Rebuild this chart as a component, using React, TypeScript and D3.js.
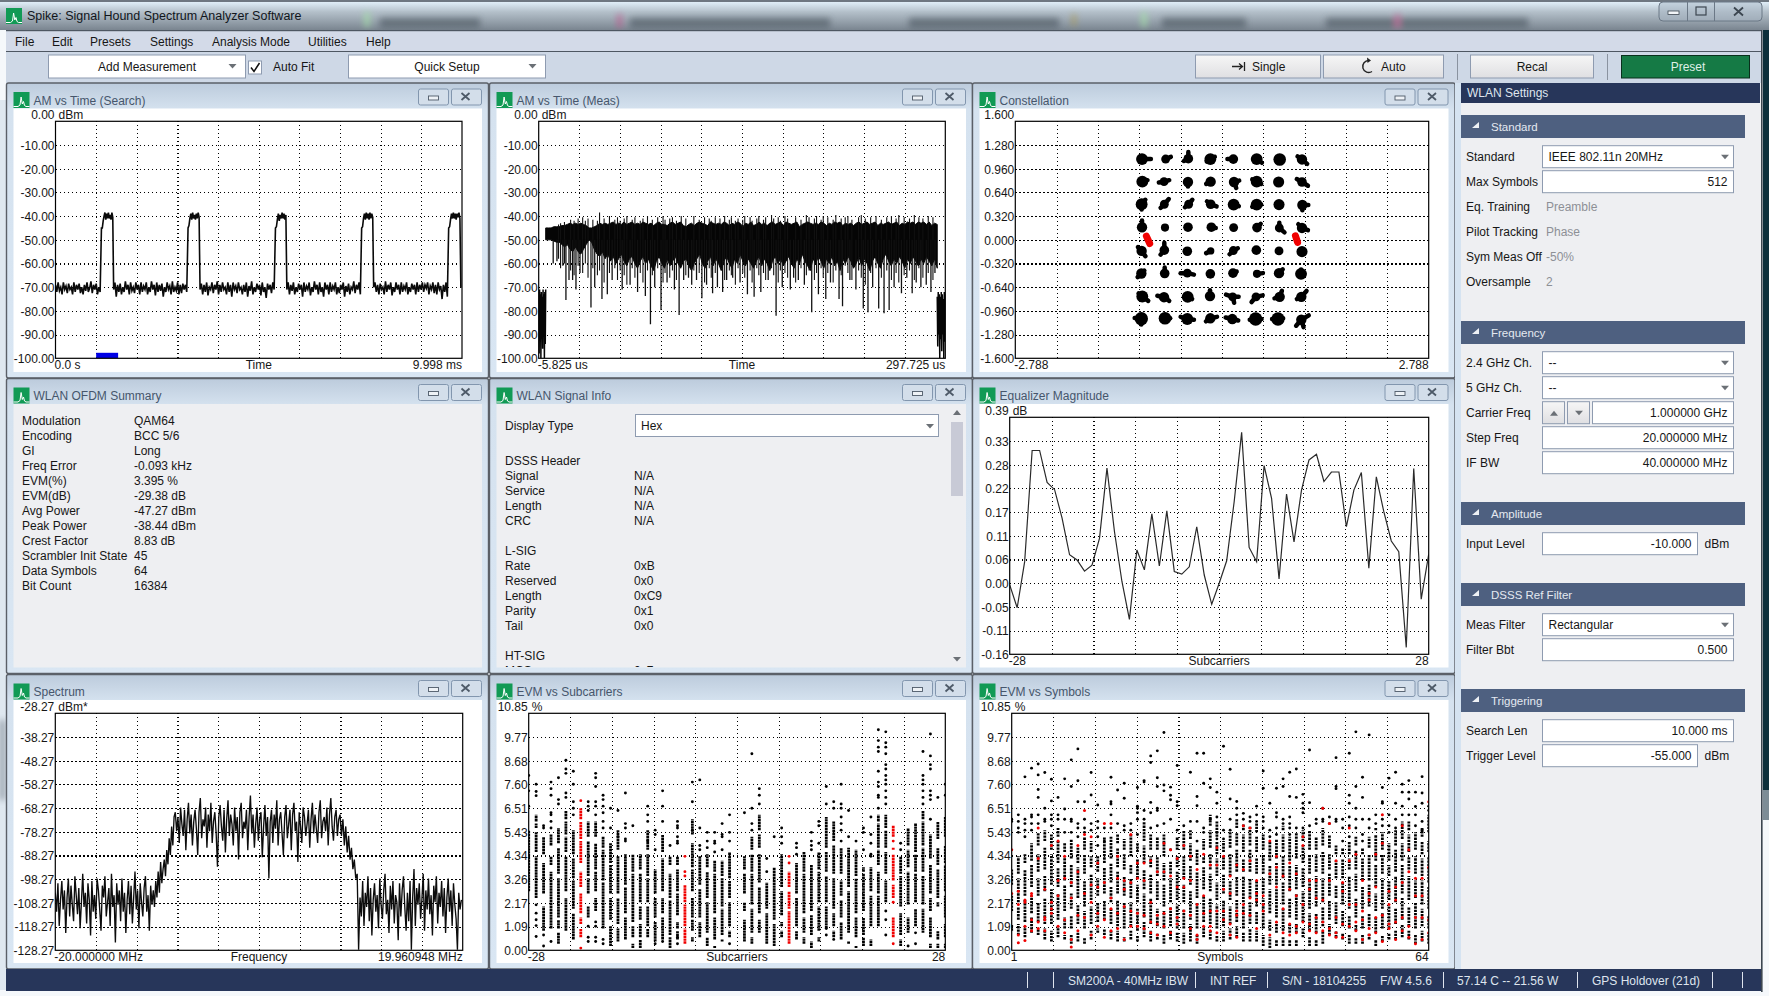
import { useEffect, useRef } from "react";
import * as d3 from "d3";

const FONT = "'Liberation Sans', Arial, sans-serif";

// ---- tick labels ----
const searchYLabels = ["", "-10.00", "-20.00", "-30.00", "-40.00", "-50.00", "-60.00", "-70.00", "-80.00", "-90.00", "-100.00"];
const constYLabels = ["", "1.280", "0.960", "0.640", "0.320", "0.000", "-0.320", "-0.640", "-0.960", "-1.280", "-1.600"];
const eqYLabels = ["", "0.33", "0.28", "0.22", "0.17", "0.11", "0.06", "0.00", "-0.05", "-0.11", "-0.16"];
const specYLabels = ["", "-38.27", "-48.27", "-58.27", "-68.27", "-78.27", "-88.27", "-98.27", "-108.27", "-118.27", "-128.27"];
const evmYLabels = ["", "9.77", "8.68", "7.60", "6.51", "5.43", "4.34", "3.26", "2.17", "1.09", "0.00"];

// ---- AM vs Time (Search), dBm, 0 .. 9.998 ms ----
// time where each stretch of the trace starts, last entry closes the axis
const searchEdges = [0, 1.13, 1.43, 3.26, 3.555, 5.41, 5.69, 7.53, 7.825, 9.67, 9.97, 9.998];
const searchPieces = [
  [-69, -72, -68, -71.5, -70, -73, -68, -71, -69.5, -72.5, -68.5, -71, -70, -73, -68, -72, -69, -71, -68.5, -72.5, -70, -73, -69, -71.5, -68, -72, -70.5, -67.5, -72.5, -69, -71, -68.5, -73, -70, -72],
  [-45, -45, -42, -40, -38.5, -41.5, -39, -41, -38.5, -41, -39.5, -41.5, -38.5, -40.5],
  [-71, -68, -74, -69, -72, -68.5, -73, -70, -72, -67.5, -71, -69, -73, -68, -71.5, -70, -72.5, -68, -71, -69, -73, -68, -72, -69.5, -71, -68, -73, -70, -72, -67.5, -71, -69, -73.5, -68, -72, -69, -71.5, -68.5, -74, -70, -72, -68, -71, -69.5, -73, -67.5, -72, -70, -71.5, -68, -73, -69, -72.5, -68.5, -71, -69, -72],
  [-45, -44, -41, -39, -41.5, -38.5, -41, -39.5, -41.5, -39, -41, -38.5, -40.5],
  [-71, -68.5, -73, -69, -72, -68, -73.5, -70, -71, -68, -72.5, -69, -71, -67.5, -73, -69, -72, -68, -71, -70, -73, -68, -72, -69, -74, -68, -71, -69.5, -72.5, -68, -71, -70, -73, -69, -72, -68, -74, -69.5, -71.5, -67.5, -73, -70, -72, -68.5, -71, -69, -73.5, -68, -72, -70, -74.5, -68.5, -71, -69, -72.5, -68, -71],
  [-45, -44.5, -41.5, -39, -42, -39.5, -41, -38.5, -41, -39, -41.5, -39.5],
  [-71, -68, -73, -69, -71.5, -68, -73, -70, -72, -68.5, -71, -69, -74, -68, -72, -69.5, -71, -68, -73.5, -70, -72, -67.5, -71, -69, -73, -68, -72, -70, -74, -68, -71, -69, -73, -68, -72, -69.5, -71, -68, -73, -70, -72.5, -69, -71, -68, -74, -69.5, -72, -68.5, -73, -70, -71, -67.5, -72.5, -69, -71, -68, -73],
  [-45, -44.5, -41, -39, -41.5, -38.5, -41, -39, -41.5, -38.5, -41, -39, -40.5],
  [-70, -68, -72, -69, -73, -68.5, -71, -70, -73, -67.5, -72, -69, -71, -68, -73.5, -70, -72, -68, -71, -69, -73, -68, -72, -69.5, -71, -68, -73, -70, -72, -68.5, -71, -69, -73, -68, -72, -69, -71, -68, -72, -69, -70.5, -68, -73, -69.5, -71, -68, -72.5, -69, -73, -68, -71, -69.5, -75, -69, -72, -68, -74],
  [-45, -44.5, -41.5, -39, -41, -38.5, -41, -39, -41.5, -39, -40.5, -38.5, -41],
  [-70, -70],
];
const searchBlock = [1.0, 1.54]; // ms covered by the measured burst marker

// ---- AM vs Time (Meas), dBm, -5.825 .. 297.725 us ----
const measLead = [-72, -98, -71, -90, -73, -100, -72, -92, -74, -96, -71, -88, -73, -100, -72, -94, -71];
const measTail = [-74, -95, -72, -90, -73, -100, -74, -92, -72, -97, -73, -90, -75, -100, -72, -93, -73];
const measUpper = [
  -45, -45, -45, -44.5, -44.5, -44.5, -44, -44, -43.5, -43, -43.5, -43, -43.5, -43, -43.5, -44, -45, -45, -44.5, -44, -43, -43.5, -43, -43.5, -43, -42.5, -43.5, -43, -43.5, -42.5, -43.5, -43, -42.5, -43.5, -43, -43.5, -42.5, -43, -43.5, -43, -44, -43, -42.5, -43.5, -43.5, -44, -43, -42.5, -43.5, -43, -42.5, -44, -44.5, -43.5, -43, -44, -43, -42.5, -43, -43.5, -44, -42.5, -43, -43.5, -43, -43.5, -42.5, -43, -44, -43, -43.5, -42.5, -43, -44.5, -43, -43.5, -42.5, -44, -43.5, -42.5, -43.5, -43, -44, -43, -42.5, -43.5, -43, -42.5, -44, -42.5, -43, -43.5, -43, -42.5, -44.5, -43.5, -43, -42.5, -43, -43.5, -43, -43.5, -42.5, -43, -44, -43, -43.5, -42.5, -43, -42.5, -44, -43, -43.5, -43, -44, -43, -42.5, -43.5, -43, -42.5, -43.5, -43, -42.5, -44, -43, -43.5, -43, -42.5, -43.5, -43, -42.5, -44, -43, -43.5, -42.5, -43, -42.5, -43.5, -42.5, -43, -42.5, -43.5, -42.5, -44, -43, -43.5,
];
const measCore = [
  -50, -50, -50, -50.5, -51, -51, -52, -53, -52, -54, -55, -53, -55, -56, -54, -52, -50, -51, -54, -56, -57, -55, -58, -56, -59, -57, -60, -58, -56, -59, -61, -58, -57, -60, -62, -59, -57, -60, -58, -61, -63, -59, -57, -60, -62, -58, -61, -59, -57, -60, -62, -59, -58, -61, -63, -60, -58, -56, -60, -62, -59, -57, -61, -58, -60, -63, -59, -57, -60, -62, -58, -60, -56, -59, -61, -58, -60, -62, -59, -57, -61, -58, -60, -63, -59, -57, -60, -58, -61, -59, -57, -60, -62, -58, -60, -56, -59, -61, -63, -58, -60, -57, -59, -62, -58, -60, -57, -61, -59, -63, -58, -60, -57, -59, -62, -60, -57, -61, -58, -60, -63, -59, -57, -60, -62, -58, -56, -59, -61, -58, -60, -57, -59, -62, -58, -60, -57, -59, -61, -58, -60, -57, -59, -61, -58, -62,
];
const measSpikeTimes = [5, 7.8, 12.2, 14.5, 16.8, 19.5, 22, 25, 33.2, 36, 41.4, 45.4, 49, 56.5, 62.4, 68, 73.8, 77.6, 80.8, 85.5, 90, 95.5, 99, 102.4, 106, 108.4, 112, 116, 119.5, 124, 127.6, 131.5, 134.5, 139, 144.5, 150, 155, 160, 165.5, 171.4, 176, 182, 184.5, 188, 192.5, 198, 203, 208.5, 212, 218.4, 221, 226.5, 231, 236.5, 240, 243.5, 248, 252, 255.8, 259.5, 265, 269, 273, 276, 279.5, 283.5, 287, 290];
const measSpikeDepths = [-60, -59, -61, -75.4, -67, -67, -71, -64, -78.6, -70, -75, -73, -67, -71, -69, -72, -73.7, -85.6, -70, -79.6, -68, -71, -81.7, -67, -66, -69, -67, -74.7, -69, -72.6, -70, -72, -67, -66, -68, -73, -74, -72, -67, -82, -70, -71, -66, -67, -69, -80.6, -73, -75, -68, -75, -78, -67, -71, -79, -80.6, -70, -79, -81, -79.6, -70, -72.6, -66, -72.6, -68, -70, -69, -72, -64];
const measFineTimes = [9, 10.5, 13.4, 18, 20.6, 23.6, 27, 29, 31, 34.6, 38, 39.6, 43, 47, 51, 53, 55, 58, 60, 64, 66, 70, 72, 75.4, 79, 83, 87, 88.5, 92, 94, 97, 100.6, 104, 110, 114, 118, 121.5, 123, 126, 129.5, 133, 136.5, 138, 141, 143, 146.5, 148, 152, 153.5, 157, 158.5, 162, 163.6, 168, 169.6, 173, 174.6, 178, 180, 186, 190, 194, 196, 200, 201.6, 205, 206.6, 210, 214, 216, 220, 223, 225, 228, 233, 235, 238, 242, 246, 250, 254, 257.5, 261, 263, 267, 271, 274.6, 278, 281, 285, 288.5];
const measFineDepths = [-58, -62, -60, -63, -65, -61, -64, -60, -66, -62, -65, -63, -68, -64, -62, -67, -63, -65, -69, -62, -66, -64, -68, -63, -65, -62, -68, -64, -66, -63, -67, -61, -65, -63, -64, -68, -62, -66, -64, -61, -67, -63, -65, -69, -62, -64, -66, -63, -68, -62, -65, -64, -67, -62, -65, -68, -63, -64, -66, -68, -62, -65, -63, -67, -64, -62, -66, -64, -68, -63, -65, -61, -64, -67, -63, -66, -69, -64, -62, -66, -63, -67, -64, -68, -65, -63, -67, -62, -66, -64, -67];
const measFinePeaks = [-43.5, -43, -42.5, -41.5, -42, -41, -40.5, -42, -41, -41.5, -42, -38.5, -41, -40, -41.5, -40.5, -42, -41, -40, -41.5, -40.5, -42, -41, -40, -41.5, -40.5, -40, -41.5, -41, -40.5, -42, -40, -41, -40, -41.5, -40.5, -41, -42, -40.5, -41, -40, -41.5, -40.5, -42, -41, -41.5, -40, -40.5, -42, -41, -40, -41.5, -40.5, -39.5, -41, -40.5, -42, -40, -41, -40.5, -41.5, -39.5, -40.5, -41, -40, -41.5, -40, -40.5, -41.5, -39.5, -41, -40.5, -40, -41.5, -40.5, -39.5, -41, -40.5, -40, -41.5, -40.5, -40, -41, -39.5, -40.5, -41, -39.5, -40.5, -41, -40, -40.5];

// ---- Constellation, 8 x 8 points row by row, then pilot points ----
const constI = [
  -1.079, -0.76, -0.454, -0.157, 0.153, 0.468, 0.778, 1.079,
  -1.075, -0.782, -0.459, -0.153, 0.162, 0.468, 0.764, 1.079,
  -1.084, -0.778, -0.45, -0.153, 0.157, 0.468, 0.769, 1.084,
  -1.079, -0.769, -0.459, -0.144, 0.157, 0.472, 0.773, 1.079,
  -1.084, -0.778, -0.468, -0.153, 0.153, 0.463, 0.769, 1.079,
  -1.088, -0.773, -0.468, -0.157, 0.148, 0.472, 0.769, 1.066,
  -1.075, -0.782, -0.463, -0.162, 0.144, 0.459, 0.778, 1.07,
  -1.088, -0.769, -0.468, -0.157, 0.139, 0.454, 0.755, 1.07,
];
const constQ = [
  1.09, 1.09, 1.095, 1.09, 1.09, 1.09, 1.085, 1.085,
  0.785, 0.785, 0.78, 0.785, 0.78, 0.785, 0.78, 0.78,
  0.48, 0.48, 0.48, 0.48, 0.475, 0.475, 0.475, 0.47,
  0.17, 0.165, 0.17, 0.17, 0.165, 0.165, 0.16, 0.16,
  -0.15, -0.14, -0.155, -0.15, -0.145, -0.14, -0.15, -0.16,
  -0.455, -0.455, -0.45, -0.46, -0.45, -0.46, -0.45, -0.46,
  -0.765, -0.775, -0.77, -0.76, -0.77, -0.77, -0.77, -0.77,
  -1.065, -1.06, -1.07, -1.06, -1.07, -1.07, -1.07, -1.08,
];
const constSpread = [
  0.08, 0.06, 0.065, 0.08, 0.065, 0.08, 0.085, 0.07,
  0.08, 0.06, 0.07, 0.07, 0.07, 0.08, 0.075, 0.065,
  0.08, 0.06, 0.06, 0.065, 0.08, 0.08, 0.075, 0.07,
  0.07, 0.055, 0.065, 0.065, 0.06, 0.065, 0.06, 0.07,
  0.07, 0.065, 0.065, 0.05, 0.06, 0.065, 0.06, 0.075,
  0.07, 0.065, 0.06, 0.065, 0.065, 0.055, 0.07, 0.08,
  0.08, 0.07, 0.08, 0.07, 0.06, 0.06, 0.07, 0.07,
  0.09, 0.085, 0.08, 0.07, 0.07, 0.09, 0.09, 0.07,
];
// blob index, I offset, Q offset: the tails that stick out of the blobs
const constTails = [
  [0, 0.12, 0], [1, 0.07, 0.03], [2, 0, 0.09], [2, -0.06, -0.03], [3, 0.06, 0.03], [3, -0.05, -0.03], [4, -0.08, 0], [5, 0.07, -0.05], [7, -0.06, 0.04], [7, 0.07, -0.06],
  [8, 0.07, 0.02], [9, -0.07, -0.01], [9, 0.07, 0.02], [10, 0, -0.06], [11, -0.06, -0.03], [12, 0.03, -0.08], [12, 0.07, 0.02], [13, 0.06, -0.03], [13, -0.06, 0.03], [15, -0.07, 0.04], [15, 0.08, -0.05],
  [16, 0.05, 0.06], [16, 0, -0.07], [17, 0.06, 0.07], [17, -0.05, -0.05], [18, 0.05, 0.06], [18, -0.05, -0.04], [19, 0.08, -0.03], [19, -0.05, 0.04], [20, 0.07, -0.02], [21, -0.06, -0.03], [21, 0.06, 0], [23, 0.08, 0], [23, 0, -0.07],
  [24, 0, 0.09], [27, 0.06, -0.01], [29, 0.05, 0.05], [30, 0.07, -0.06], [30, 0, 0.07], [31, -0.05, 0.05], [31, 0.08, -0.03],
  [32, 0.05, -0.07], [32, -0.05, 0.05], [33, -0.05, -0.06], [33, 0, 0.1], [35, -0.06, -0.03], [36, 0.06, 0.03], [36, -0.05, -0.05],
  [40, -0.05, -0.05], [40, 0.04, 0.04], [41, 0, 0.08], [42, -0.09, 0], [42, 0.09, -0.02], [44, 0.05, 0.02], [45, 0.08, 0.01], [46, 0.05, 0.05], [47, 0, 0.06],
  [48, 0.08, -0.06], [48, -0.05, 0.04], [49, -0.09, 0.02], [49, 0.07, -0.05], [50, 0.06, -0.03], [51, 0, 0.08], [52, -0.09, 0.03], [52, 0.08, 0], [52, 0.02, -0.08], [53, -0.06, -0.07], [53, 0.09, 0.02], [54, -0.07, -0.02], [54, 0.03, 0.08], [55, 0.07, 0.08], [55, -0.06, -0.03],
  [56, -0.09, 0.01], [56, 0, -0.08], [57, 0.07, 0], [58, -0.09, 0.03], [58, 0.09, -0.01], [59, 0.09, 0.02], [59, -0.06, -0.04], [60, -0.09, 0.02], [60, 0.08, -0.02], [61, -0.08, -0.01], [61, 0.08, 0], [62, -0.08, 0], [62, 0.07, 0.01], [63, 0.1, 0.06], [63, -0.07, -0.08], [63, 0.03, -0.1],
];
const pilotStartI = [-1.02, 0.99];
const pilotStartQ = [0.05, 0.055];
const pilotEndI = [-0.975, 1.02];
const pilotEndQ = [-0.05, -0.035];

// ---- Equalizer magnitude, dB per subcarrier ----
const eqValues = [
  0.001, -0.052, 0.055, 0.313, 0.313, 0.239, 0.222, 0.156, 0.071, 0.059, 0.033, 0.047, 0.109, 0.272, 0.125, 0.009, -0.079, 0.082, 0.036,
  0.166, 0.045, 0.173, 0.032, 0.026, 0.043, 0.136, 0.024, -0.044, 0.005, 0.057, 0.194, 0.355, 0.088, 0.055, 0.278, 0.202, 0.015, 0.212,
  0.101, 0.221, 0.291, 0.304, 0.241, 0.263, 0.263, 0.136, 0.221, 0.262, 0.04, 0.252, 0.171, 0.103, 0.078, -0.144, 0.271, -0.032, 0.072,
];

// ---- Spectrum, dBm ----
const spectrumEdges = [-20, -10.39, -8.23, 7.93, 9.89, 19.96];
const spectrumPieces = [
  [-104, -112, -100, -118, -107, -99, -111, -103, -121, -106, -98, -114, -101, -109, -116, -97, -105, -113, -102, -119, -108, -96, -110, -104, -117, -100, -107, -122, -99, -112, -105, -115, -98, -103, -111, -120, -101, -106, -97, -114, -108, -102, -118, -96, -110, -105, -125, -100, -109, -103, -116, -98, -112, -104, -121, -107, -99, -113, -101, -117, -106, -95, -111, -103, -119, -100, -108, -114, -102, -97, -112, -105, -120, -101, -109],
  [-103, -110, -99, -106, -95, -104, -91, -100, -94, -90, -97, -86, -92, -81, -88, -76, -84, -72],
  [-70, -78, -72, -83, -68, -75, -80, -69, -86, -73, -66, -79, -71, -84, -74, -69, -77, -88, -70, -64, -81, -73, -76, -68, -85, -71, -78, -66, -83, -74, -70, -79, -93, -72, -67, -76, -82, -69, -87, -73, -65, -80, -71, -75, -84, -68, -78, -72, -90, -70, -66, -81, -74, -77, -69, -86, -72, -63, -79, -71, -85, -75, -68, -82, -73, -70, -89, -76, -67, -80, -72, -98, -74, -69, -83, -71, -77, -65, -84, -73, -70, -79, -88, -72, -67, -81, -75, -69, -86, -71, -66, -78, -74, -91, -70, -76, -83, -68, -72, -80, -75, -69, -85, -73, -66, -79, -71, -77, -83, -70, -65, -81, -74, -72, -78, -68, -84, -71, -64, -76, -82, -72, -69, -80, -73],
  [-71, -80, -73, -84, -76, -87, -80, -90, -85, -94, -90, -98, -96, -128],
  [-106, -114, -99, -118, -104, -110, -97, -116, -102, -122, -107, -100, -112, -105, -119, -98, -109, -115, -103, -96, -113, -107, -121, -101, -111, -99, -117, -105, -108, -124, -100, -114, -103, -97, -110, -120, -104, -116, -99, -128, -106, -94, -118, -102, -109, -100, -115, -107, -96, -120, -103, -111, -98, -113, -105, -122, -101, -108, -97, -117, -104, -110, -99, -114, -102, -121, -106, -98, -112, -103, -118, -100, -109, -115, -128, -104, -111, -107],
];

// ---- EVM vs Subcarriers: runs of stacked points (lo, hi pairs) and lone points, % ----
const subBands = [
  [2.7, 5.5],
  [2.4, 4.3, 4.5, 5.4, 5.6, 5.8, 5.9, 6.2], [0.9, 2.0, 2.6, 4.0, 4.4, 5.2], [1.0, 3.6, 3.9, 4.3, 4.8, 5.3], [0.3, 0.8, 1.0, 1.4, 1.5, 3.3, 3.5, 4.7, 4.9, 5.6],
  [0.9, 2.4, 2.7, 4.3, 4.5, 5.2, 5.3, 5.9, 6.0, 6.4], [0.5, 1.7, 1.9, 3.2, 3.3, 4.2, 4.4, 5.5], [0.6, 1.0, 1.2, 1.5, 1.7, 2.6, 2.9, 3.6, 4.0, 5.0, 5.1, 5.9, 6.0, 6.5], [1.5, 2.0, 2.6, 3.3, 3.4, 5.0, 5.2, 5.9],
  [1.8, 2.4, 2.7, 3.6, 3.7, 4.9, 5.2, 5.9], [1.0, 3.1, 3.2, 4.6, 4.7, 5.2], [0.2, 1.1, 1.4, 2.4, 2.6, 3.9, 4.0, 4.9], [0.4, 1.0, 1.2, 2.4, 2.6, 4.3, 4.6, 5.5],
  [0.5, 1.5, 1.7, 2.9, 3.0, 4.4], [0.1, 0.3, 0.6, 1.1, 1.3, 3.5, 3.6, 4.4], [0.1, 0.5, 0.6, 1.2, 1.4, 2.0, 2.2, 3.5, 3.7, 4.4], [0.6, 1.0, 1.1, 2.0, 2.2, 3.3, 3.4, 4.4, 4.6, 5.5],
  [0.4, 1.3, 1.5, 2.4, 2.6, 3.7], [0.5, 1.5, 1.7, 2.4, 2.7, 4.2, 4.5, 5.3], [0.1, 0.6, 0.7, 2.3, 2.4, 3.5, 3.9, 4.3], [0.5, 0.9, 1.0, 1.3, 1.6, 2.6, 2.7, 3.7, 3.9, 4.3],
  [0.3, 1.0, 1.1, 2.1, 2.2, 3.0], [0.4, 0.6, 0.9, 1.4, 1.5, 2.4, 2.7, 3.7, 3.8, 4.9, 5.3, 6.0], [0.6, 1.3, 1.5, 2.8, 3.0, 4.3], [0.2, 0.6, 0.8, 2.2, 2.4, 3.6, 3.8, 4.4],
  [0.1, 0.2, 0.5, 1.5, 1.7, 3.5, 3.6, 4.1], [0.4, 0.5, 0.7, 1.9, 2.0, 3.3, 3.4, 4.1], [0.6, 0.9, 1.1, 2.2, 2.4, 3.2, 3.3, 4.5], [],
  [0.4, 1.4, 1.8, 2.2, 2.6, 3.5, 3.7, 4.3], [0.3, 0.6, 0.8, 1.9, 2.1, 3.5, 3.6, 4.4, 4.6, 5.2], [0.8, 1.4, 1.7, 2.9, 3.1, 4.4, 4.7, 5.3, 5.5, 6.2], [0.3, 1.7, 1.9, 3.1],
  [0.2, 1.2, 1.4, 3.8], [0.6, 0.9, 1.1, 1.3, 1.6, 2.7, 2.9, 4.4], [0.3, 1.8, 1.9, 2.7, 2.9, 3.6], [0.5, 0.9, 1.1, 2.4, 2.6, 4.0],
  [0.3, 0.6, 0.8, 1.5, 1.7, 3.5, 3.6, 4.5], [0.1, 0.4, 0.7, 1.6, 1.8, 3.9], [0.4, 0.6, 0.9, 2.0, 2.2, 3.6, 3.7, 4.5], [1.0, 2.0, 2.2, 3.4, 3.6, 4.5, 4.7, 6.1],
  [0.6, 0.9, 1.1, 1.7, 1.9, 3.3, 3.5, 4.8, 5.0, 5.9], [0.5, 1.3, 1.5, 2.3, 2.5, 3.2, 3.5, 4.7], [0.3, 0.4, 0.8, 2.7, 2.9, 4.7], [0.1, 0.2, 0.6, 1.5, 1.7, 3.3, 3.4, 4.6],
  [0.2, 0.6, 0.7, 1.5, 1.8, 3.5, 3.6, 3.8], [0.2, 0.5, 1.1, 2.5, 2.7, 3.8], [1.1, 2.5, 2.6, 3.6, 3.9, 4.6, 4.7, 5.8, 5.9, 6.2], [2.2, 3.2, 3.5, 4.5, 4.7, 5.5, 5.6, 6.2],
  [0.6, 1.5, 2.4, 3.0, 3.2, 4.4, 4.6, 4.7, 5.2, 5.7], [0.2, 0.5, 0.7, 1.7, 2.0, 3.4, 3.5, 4.3], [0.8, 1.5, 2.1, 3.6, 3.8, 4.6, 4.8, 5.6], [1.1, 1.9, 2.2, 3.5, 3.6, 4.4, 4.5, 5.8],
  [0.8, 1.9, 2.1, 3.4, 3.6, 4.7, 4.8, 5.9, 6.0, 6.4], [0.1, 0.3, 0.6, 1.5, 1.8, 2.4, 2.6, 3.9, 4.2, 5.3], [0.1, 0.3, 0.5, 0.9, 2.0, 2.2, 2.4, 3.7, 3.9, 4.7, 5.1, 5.9], [0.1, 0.3, 0.6, 1.2, 1.5, 2.5, 2.7, 3.9, 4.0, 4.8, 5.2, 6.1],
];
const subDots = [
  [6.6, 7.3, 8.0],
  [0.63, 1.13, 1.4, 1.7, 2.08, 7.08, 7.27, 7.6], [0.2, 0.7, 5.6, 5.7], [0.4, 5.6, 5.9, 6.2, 6.3, 7.1, 7.4, 7.7], [6.7, 6.9, 7.9],
  [7.0, 7.2, 8.1, 8.3, 8.7], [6.2, 6.5, 6.8, 7.6, 8.2], [0.1, 6.85], [0.4, 0.6, 1.1, 6.4, 6.6, 6.8],
  [0.4, 0.6, 1.1, 1.3, 6.2, 6.6, 6.8, 7.5, 7.9, 8.1], [0.3, 0.5, 5.6, 5.9, 6.3, 6.6, 6.9, 7.1], [5.6, 6.5], [5.2, 6.4],
  [5.0, 5.1, 5.6, 5.8, 7.2], [5.7], [], [5.0, 5.9, 6.2, 6.6],
  [0.3, 4.6, 5.3, 5.5], [0.4, 5.9, 6.6, 7.3], [4.8], [0.3, 0.6, 4.9, 5.0, 5.2, 5.6, 5.7, 5.9],
  [3.4, 3.6, 4.3], [5.5, 6.8, 7.7], [4.6, 4.8, 5.6, 7.8], [4.7, 5.0, 5.4],
  [4.5, 4.9, 5.0, 5.4], [4.6, 5.2, 5.3, 5.8], [0.3, 5.0, 5.4, 6.2], [],
  [6.3], [5.5, 5.8, 6.5, 9.0], [6.7, 7.1, 7.4], [3.6, 4.2],
  [5.2], [4.9, 5.2, 5.6], [4.0, 4.3], [4.4, 4.7, 4.9],
  [], [4.6, 4.8, 5.0, 5.4], [4.9, 5.7, 5.9], [0.7, 1.0, 6.7, 7.5],
  [0.5, 6.5, 6.8], [5.0, 5.5, 5.8, 6.1, 6.5, 6.7, 7.6], [5.2, 6.4], [5.0],
  [4.6, 5.4, 5.6], [4.3, 4.4, 4.9, 5.3, 6.1], [6.5, 7.0, 7.1, 7.5, 7.7, 8.2, 9.1, 9.3, 9.6, 10.1], [0.7, 1.4, 1.8, 6.7, 7.0, 7.3, 7.6, 7.8, 8.0, 8.3, 8.5, 9.0, 9.3, 9.5, 10.0],
  [0.3, 2.2, 5.0], [4.6, 4.9], [0.2], [0.3, 0.8],
  [6.7, 7.0, 7.3, 7.6, 7.8, 8.0, 9.1], [6.0, 6.9, 7.1, 7.3, 8.3, 8.5, 8.9, 9.9], [7.0], [7.1, 7.6],
];
const subPilots = [7, 21, 35, 49];

// ---- EVM vs Symbols, same layout, plus the pilot points per symbol ----
const symBands = [
  [0.9, 1.2, 1.8, 2.5, 3.0, 3.7], [0.7, 1.2, 1.4, 2.0, 2.2, 3.3, 3.5, 4.3], [0.6, 1.1, 1.3, 2.3, 2.5, 3.7, 4.0, 4.4], [0.8, 1.5, 1.7, 2.5, 2.9, 3.9, 4.1, 4.9],
  [0.7, 1.0, 1.3, 2.2, 2.5, 3.3, 3.6, 4.4, 4.8, 5.4], [0.5, 1.0, 1.2, 2.4, 2.7, 3.4, 3.7, 4.7, 5.0, 5.5], [0.4, 0.9, 1.2, 2.8, 3.0, 4.4, 4.6, 5.3], [0.6, 1.1, 1.4, 2.6, 2.9, 3.8, 4.0, 5.0, 5.2, 5.6],
  [0.5, 0.7, 1.0, 1.5, 1.8, 3.0, 3.2, 4.3, 4.5, 4.9], [0.3, 0.7, 1.0, 1.6, 1.9, 2.6, 2.9, 3.9, 4.2, 5.1], [0.4, 0.8, 1.2, 2.1, 2.4, 3.8, 4.0, 4.7], [0.3, 0.6, 1.0, 1.8, 2.0, 3.2, 3.5, 4.4, 4.6, 5.2],
  [0.5, 0.9, 1.2, 2.0, 2.3, 3.5, 3.8, 4.3, 4.5, 5.0], [0.8, 1.0, 1.3, 2.2, 2.5, 3.3, 3.6, 4.3], [0.7, 1.0, 1.4, 2.3, 2.6, 3.8, 4.0, 5.2], [0.5, 0.9, 1.2, 1.9, 2.2, 2.9, 3.1, 4.0, 4.2, 5.2],
  [0.4, 0.9, 1.1, 2.3, 2.6, 3.6, 3.8, 4.7, 4.9, 5.3], [0.4, 0.6, 1.0, 2.2, 2.5, 3.4, 3.7, 4.4, 4.6, 5.1], [0.5, 0.9, 1.1, 2.2, 2.4, 3.3, 3.5, 3.9, 4.3, 5.3], [0.4, 0.7, 0.9, 1.9, 2.2, 3.0, 3.3, 4.2, 4.5, 4.9],
  [0.6, 1.3, 1.5, 2.6, 2.8, 3.7, 4.0, 4.8, 5.0, 5.9], [0.4, 0.9, 1.2, 2.4, 2.6, 3.5, 3.8, 4.3, 4.6, 5.3], [0.5, 0.8, 1.1, 1.9, 2.3, 3.2, 3.4, 4.3, 4.6, 5.2], [0.3, 0.7, 1.0, 1.8, 2.0, 3.0, 3.2, 4.0, 4.3, 5.3],
  [0.5, 0.9, 1.1, 2.0, 2.2, 3.3, 3.5, 4.1], [0.4, 0.8, 1.0, 2.1, 2.3, 3.6, 3.8, 4.3, 4.6, 5.2], [0.3, 0.8, 1.0, 1.9, 2.2, 3.0, 3.3, 4.3, 4.6, 5.5], [0.4, 1.2, 1.4, 2.7, 3.0, 3.9, 4.1, 4.9, 5.1, 5.5],
  [0.3, 0.7, 1.0, 2.2, 2.4, 3.6, 3.9, 4.6], [0.6, 1.1, 1.3, 2.5, 2.8, 3.8, 4.0, 4.3, 4.6, 5.1], [0.5, 0.9, 1.2, 2.4, 2.7, 3.5, 3.7, 4.4, 4.7, 5.5, 5.7, 6.2], [0.4, 0.7, 1.0, 2.1, 2.3, 3.1, 3.4, 4.2, 4.4, 5.0, 5.2, 5.9],
  [0.4, 0.9, 1.1, 2.3, 2.6, 3.5, 3.7, 4.3, 4.5, 5.0], [0.5, 1.0, 1.2, 2.0, 2.3, 3.2, 3.4, 4.4, 4.7, 5.4], [0.6, 1.1, 1.3, 2.3, 2.5, 3.4, 3.6, 4.6, 4.8, 5.4, 5.6, 6.0], [0.4, 0.8, 1.0, 2.0, 2.2, 3.4, 3.6, 4.2, 4.5, 5.3, 5.5, 5.8],
  [0.4, 1.0, 1.2, 2.2, 2.4, 3.3, 3.6, 4.6, 4.8, 5.7], [0.4, 0.9, 1.2, 1.8, 2.0, 3.2, 3.5, 4.2, 4.5, 5.2, 5.4, 5.8], [0.2, 0.7, 1.0, 2.4, 2.6, 3.3, 3.5, 4.4, 4.6, 5.3], [0.1, 0.6, 0.9, 1.4, 1.7, 2.8, 3.0, 3.9, 4.1, 5.0],
  [0.2, 0.5, 0.8, 1.3, 1.5, 2.8, 3.0, 4.0, 4.2, 5.1], [0.2, 0.6, 0.9, 1.9, 2.1, 3.1, 3.3, 4.3, 4.5, 5.3, 5.5, 5.7], [0.2, 0.5, 0.8, 1.2, 1.5, 2.4, 2.7, 3.9, 4.1, 5.2], [0.2, 0.5, 0.8, 1.2, 1.4, 2.6, 2.8, 3.9, 4.2, 5.4],
  [0.6, 1.0, 1.3, 2.7, 2.9, 3.8, 4.0, 4.8, 5.0, 5.5], [0.2, 0.6, 0.9, 1.7, 1.9, 3.3, 3.5, 4.4, 4.6, 5.5], [0.2, 0.5, 0.8, 1.7, 2.0, 3.4, 3.6, 4.4, 4.6, 5.2], [0.3, 0.9, 1.1, 2.0, 2.2, 3.3, 3.5, 4.5, 4.8, 5.6],
  [0.7, 1.2, 1.4, 2.3, 2.5, 3.5, 3.7, 4.4, 4.7, 5.3], [0.6, 0.9, 1.2, 2.2, 2.4, 3.0, 3.3, 4.1, 4.4, 4.8], [0.5, 0.8, 1.1, 1.8, 2.1, 3.1, 3.3, 4.2, 4.4, 4.7], [0.3, 0.7, 1.0, 1.6, 1.9, 3.4, 3.7, 4.2, 4.4, 5.0],
  [0.3, 0.6, 0.9, 1.2, 1.5, 2.4, 2.7, 3.5, 3.7, 4.6, 4.8, 5.2], [0.3, 0.7, 1.0, 1.6, 1.9, 2.9, 3.2, 4.2, 4.4, 4.7], [0.5, 0.8, 1.1, 1.7, 2.0, 3.0, 3.2, 4.4, 4.7, 5.2], [0.2, 0.5, 0.8, 1.5, 1.8, 2.6, 2.9, 3.9, 4.1, 5.3, 5.5, 5.6],
  [0.4, 0.7, 1.0, 1.7, 1.9, 3.3, 3.5, 4.4, 4.6, 5.4], [0.5, 0.8, 1.0, 2.0, 2.3, 3.2, 3.4, 3.9, 4.1, 4.9], [0.5, 0.9, 1.2, 1.9, 2.2, 3.4, 3.6, 4.6, 4.8, 5.5], [0.6, 1.2, 1.4, 2.4, 2.6, 3.9, 4.1, 4.9, 5.1, 5.9],
  [0.5, 0.9, 1.1, 2.0, 2.3, 3.4, 3.7, 4.3, 4.5, 5.3, 5.5, 5.9], [0.3, 0.7, 1.0, 2.2, 2.4, 3.2, 3.5, 4.3, 4.6, 5.4], [0.4, 0.9, 1.1, 1.9, 2.1, 3.2, 3.4, 4.2, 4.4, 5.0, 5.2, 5.6], [0.3, 0.8, 1.0, 1.6, 1.9, 2.9, 3.1, 4.3, 4.5, 5.0, 5.4, 6.2],
];
const symDots = [
  [5.9, 6.0], [5.4, 5.6, 5.9, 6.2], [5.2, 5.5, 5.8, 6.0, 7.94], [5.5, 5.8, 6.1, 6.2, 8.34], [5.8, 6.2, 7.0, 7.36, 8.03, 8.53], [5.9, 6.0, 6.5, 8.14], [5.7, 6.0, 6.2, 6.84, 7.83], [6.0, 6.2, 7.0],
  [5.4, 6.0, 6.47, 7.85], [5.4, 5.9, 6.0, 7.5, 8.72], [5.2, 5.6, 5.8, 6.8, 7.76, 9.22], [5.4, 5.6, 6.0, 6.8], [5.5, 5.8, 7.11, 8.14], [4.8, 5.2, 5.6, 5.9, 6.65], [5.0, 5.6], [5.6, 6.2, 6.7, 6.8, 7.92],
  [5.8, 7.34], [5.5, 5.7, 6.96, 7.65], [5.5, 5.8], [5.3, 6.0, 6.3, 6.5, 6.6, 7.45], [6.0, 6.4, 7.7, 7.77], [5.6, 6.3, 6.77, 8.6, 8.9], [5.7, 6.4, 6.5, 7.5, 7.9, 9.13], [5.8, 7.3, 7.57, 9.97],
  [4.6, 6.0, 6.89, 7.1, 7.47], [5.5, 6.62, 6.8, 8.46], [5.7], [5.9, 8.15], [5.0, 5.9, 6.62, 7.04, 9.02], [5.4, 5.6, 7.65, 9.02], [6.0, 7.45, 7.85], [5.1, 5.4, 6.1, 6.73, 7.24],
  [5.1, 5.5, 9.34], [5.5, 6.0, 6.93, 8.29], [6.2, 6.5, 6.81], [6.27, 6.0], [5.9, 6.1], [5.9, 6.2, 6.6], [5.6, 5.9, 6.1, 7.42, 8.21], [5.2, 5.5, 6.73],
  [5.3, 5.6, 6.1, 6.3, 7.42], [5.8, 6.0, 7.5, 7.85], [5.3, 5.6, 5.8, 6.1, 7.04, 8.15], [5.6, 7.0, 8.3], [5.6, 6.3, 6.5, 6.73, 7.14], [5.7, 6.76, 9.17], [5.8, 6.0], [5.9, 6.0, 6.5],
  [5.8, 6.1], [5.9, 6.0, 7.4, 7.5, 8.82], [5.0, 5.6, 6.0], [5.2, 5.7, 6.1, 6.73, 7.1, 9.02], [5.6, 6.0, 6.5, 7.5, 10.0], [5.0, 5.3, 6.0, 7.0, 7.92], [5.6, 6.0, 9.86], [5.8, 6.2],
  [5.7, 6.0, 6.73, 6.8, 7.45], [5.4, 5.7, 6.2, 7.88], [5.6, 6.0, 6.73, 8.15], [6.2, 6.6, 7.24, 7.6], [6.2, 6.93, 7.24, 7.77], [5.7, 6.2, 6.58, 7.24], [5.5, 5.9, 6.73, 7.2, 7.95], [6.4, 6.6],
];
const symPilots = [
  [2.6, 4.6], [0.35, 0.7, 2.1, 2.7], [0.45, 2.2, 1.1, 2.3], [0.9, 1.4, 2.5, 2.6], [1.0, 1.3, 4.2, 5.6], [0.9, 1.4, 2.8, 1.5], [1.7, 1.9, 2.2, 4.8], [1.1, 2.5, 3.2, 5.0],
  [0.8, 1.4, 3.3, 4.3], [0.15, 0.5, 2.4, 3.1], [1.6, 0.9, 3.6, 4.8], [1.5, 2.6, 5.3, 6.4], [0.7, 2.2, 3.0, 5.2], [1.1, 1.7, 2.9, 4.0], [0.6, 1.4, 3.1, 5.8], [0.9, 1.9, 2.4, 5.8],
  [1.0, 1.7, 3.3, 4.3], [0.5, 2.0, 2.8, 3.2], [1.1, 1.8, 3.1, 5.3], [1.7, 1.1, 3.3, 4.0], [1.0, 1.6, 4.0, 3.2], [0.8, 2.2, 4.1, 1.3], [0.7, 1.2, 1.6, 3.6], [1.1, 1.7, 4.9, 3.6],
  [0.8, 1.9, 3.4, 4.6], [1.2, 1.5, 2.9, 4.2], [1.8, 2.9, 3.3, 4.8], [1.0, 3.2, 4.3, 1.6], [0.7, 0.5, 2.1, 3.7], [2.5, 1.7, 1.1, 4.4], [1.8, 1.1, 0.9, 3.9], [1.8, 0.8, 3.9, 4.7],
  [1.4, 1.8, 2.8, 4.3], [0.7, 1.2, 3.4, 2.6], [0.6, 1.8, 3.9, 1.6], [2.1, 1.7, 3.7, 5.7], [1.6, 2.4, 4.1, 5.6], [1.0, 2.3, 3.2, 2.6], [2.1, 1.8, 2.5], [5.0, 3.5, 0.7],
  [1.3, 3.8, 4.3, 2.9], [0.8, 1.9, 3.4], [1.2, 0.7, 2.8, 4.0], [0.8, 1.1, 3.5, 2.5], [1.3, 2.1, 5.2, 4.8], [0.9, 1.2, 2.8, 3.2], [0.8, 1.5, 3.2, 2.4], [0.9, 1.3, 2.3, 6.5],
  [1.0, 0.7, 3.2, 5.8], [0.6, 0.8, 1.5, 4.1], [0.6, 1.2, 2.7, 3.1], [1.1, 2.1, 4.1, 5.6], [0.9, 1.3, 2.1, 4.4], [0.5, 1.4, 1.8, 3.2], [0.7, 1.0, 2.6, 2.3], [0.8, 2.9, 4.4, 1.5],
  [0.4, 1.6, 4.9, 6.2], [1.0, 1.2, 2.1, 2.7], [0.5, 1.3, 2.3, 2.9], [0.9, 1.5, 3.1, 5.7], [0.6, 1.1, 3.6, 4.6], [0.3, 1.5, 2.5, 3.3], [0.5, 1.5, 2.5, 3.3], [0.8, 1.4, 3.8, 6.8],
];

// ---- readouts ----
const summaryLabels = ["Modulation", "Encoding", "GI", "Freq Error", "EVM(%)", "EVM(dB)", "Avg Power", "Peak Power", "Crest Factor", "Scrambler Init State", "Data Symbols", "Bit Count"];
const summaryValues = ["QAM64", "BCC 5/6", "Long", "-0.093 kHz", "3.395 %", "-29.38 dB", "-47.27 dBm", "-38.44 dBm", "8.83 dB", "45", "64", "16384"];
const signalLabels = ["DSSS Header", "Signal", "Service", "Length", "CRC", "", "L-SIG", "Rate", "Reserved", "Length", "Parity", "Tail", "", "HT-SIG", "MCS"];
const signalValues = ["", "N/A", "N/A", "N/A", "N/A", "", "", "0xB", "0x0", "0xC9", "0x1", "0x0", "", "", "0x7"];
const menuItems = ["File", "Edit", "Presets", "Settings", "Analysis Mode", "Utilities", "Help"];
const menuX = [15, 52, 90, 150, 212, 308, 366];

// ---------------------------------------------------------------------------

type PlotBox = { x: number; y: number; w: number; h: number };
type G = d3.Selection<SVGGElement, unknown, null, undefined>;

const T = ({ x, y, children, size = 12, fill = "#161616", anchor = "start", weight }: any) => (
  <text x={x} y={y} fontFamily={FONT} fontSize={size} fill={fill} textAnchor={anchor} dominantBaseline="central" fontWeight={weight}>
    {children}
  </text>
);

const AppIcon = ({ x, y, size = 16 }: { x: number; y: number; size?: number }) => {
  const s = size / 16;
  return (
    <g transform={`translate(${x},${y}) scale(${s})`}>
      <rect width={16} height={16} fill="#119a55" />
      <path d="M0 14.5H4.5L6.5 13 7.6 5 8.8 12 10 9.5 11 13.5 12.5 14.5H16" fill="none" stroke="#fff" strokeWidth={1} />
    </g>
  );
};

const Panel = ({ x, y, w, h, title, bg = "#fff" }: { x: number; y: number; w: number; h: number; title: string; bg?: string }) => (
  <g>
    <rect x={x} y={y} width={w} height={h} fill="url(#frameGrad)" stroke="#5b6068" strokeWidth={1.4} rx={2} />
    <rect x={x + 7} y={y + 25.5} width={w - 13.5} height={h - 31.5} fill={bg} />
    <AppIcon x={x + 7} y={y + 9} />
    <T x={x + 27} y={y + 17.5} size={12} fill="#46566c">{title}</T>
    <rect x={x + w - 70} y={y + 6} width={30} height={16} rx={2} fill="#d3deea" stroke="#8296ae" />
    <rect x={x + w - 60} y={y + 13} width={10} height={4} fill="#eef2f6" stroke="#4e5a68" strokeWidth={0.9} />
    <rect x={x + w - 37} y={y + 6} width={30} height={16} rx={2} fill="#d3deea" stroke="#8296ae" />
    <path d={`M${x + w - 27} ${y + 10}l8 7m0 -7l-8 7`} stroke="#4e5a68" strokeWidth={1.8} fill="none" />
  </g>
);

// frame, dotted grid and labels of one trace window, marks come through draw()
const Scope = ({ id, box, yLabels, top, unit, xLabels, draw }: {
  id: string; box: PlotBox; yLabels: string[]; top: string; unit: string; xLabels: string[]; draw: (g: G, w: number, h: number) => void;
}) => {
  const ref = useRef<SVGGElement>(null);

  useEffect(() => {
    if (!ref.current) return;
    const root = d3.select(ref.current);
    root.selectAll("*").remove();
    const { w, h } = box;

    const divX = d3.scaleLinear().domain([0, 10]).range([0, w]);
    const divY = d3.scalePoint<string>().domain(yLabels.map((_, i) => String(i))).range([0, h]);

    // Grid
    const gridX = root.append("g").attr("transform", `translate(0,${h})`)
      .call(d3.axisBottom(divX).tickValues(d3.range(1, 10)).tickSize(-h).tickFormat(() => ""));
    const gridY = root.append("g")
      .call(d3.axisLeft(divY).tickValues(yLabels.map((_, i) => String(i)).slice(1, -1)).tickSize(-w).tickFormat(() => ""));
    [gridX, gridY].forEach((a) => {
      a.select(".domain").remove();
      a.selectAll("line").attr("stroke", "#000").attr("stroke-width", 1.1).attr("stroke-dasharray", "1.4 2.6").attr("shape-rendering", "crispEdges");
    });

    // Marks
    root.append("clipPath").attr("id", id).append("rect").attr("width", w).attr("height", h);
    const marks = root.append("g").attr("clip-path", `url(#${id})`);
    draw(marks as unknown as G, w, h);

    root.append("rect").attr("width", w).attr("height", h).attr("fill", "none").attr("stroke", "#000").attr("stroke-width", 1.2);

    // Y labels
    const labelAxis = root.append("g")
      .call(d3.axisLeft(divY).tickSize(0).tickPadding(1).tickFormat((d) => yLabels[+d]));
    labelAxis.select(".domain").remove();
    labelAxis.selectAll("text")
      .attr("dy", "0.36em")
      .attr("font-family", FONT).attr("font-size", 12).attr("fill", "#161616");

    // Top label and x labels
    const label = (x: number, y: number, anchor: string, s: string) =>
      root.append("text").attr("x", x).attr("y", y).attr("text-anchor", anchor)
        .attr("dominant-baseline", "central").attr("font-family", FONT).attr("font-size", 12).attr("fill", "#161616").text(s);
    label(-1, -6.5, "end", top);
    label(3, -6.5, "start", unit);
    label(-1, h + 7, "start", xLabels[0]);
    if (xLabels[1]) label(w / 2, h + 7, "middle", xLabels[1]);
    label(w, h + 7, "end", xLabels[2]);
  }, []);

  return <g ref={ref} transform={`translate(${box.x},${box.y})`} />;
};

// ---- marks ----

// stretches of samples spread over their own [edge, next edge) span
const toPoints = (pieces: number[][], edges: number[]) =>
  pieces.flatMap((piece, k) => {
    const at = d3.scaleLinear().domain([0, piece.length]).range([edges[k], edges[k + 1]]);
    return piece.map((v, i) => [at(i), v] as [number, number]);
  });

const drawSearch = (g: G, w: number, h: number) => {
  const t = d3.scaleLinear().domain([0, 9.998]).range([0, w]);
  const y = d3.scaleLinear().domain([0, -100]).range([0, h]);
  const line = d3.line<[number, number]>().x((d) => t(d[0])).y((d) => y(d[1]));
  g.append("path").attr("d", line(toPoints(searchPieces, searchEdges)))
    .attr("fill", "none").attr("stroke", "#0a0a0a").attr("stroke-width", 1.6);
  g.append("rect").attr("x", t(searchBlock[0])).attr("width", t(searchBlock[1]) - t(searchBlock[0]))
    .attr("y", h - 5.5).attr("height", 5.5).attr("fill", "#0000e6");
};

const drawMeas = (g: G, w: number, h: number) => {
  const t = d3.scaleLinear().domain([-5.825, 297.725]).range([0, w]);
  const y = d3.scaleLinear().domain([0, -100]).range([0, h]);
  const burst = d3.scaleLinear().domain([0, measUpper.length - 1]).range([-0.6, 291.7]);
  const lead = d3.scaleLinear().domain([0, measLead.length - 1]).range([-5.825, -0.6]);
  const tail = d3.scaleLinear().domain([0, measTail.length - 1]).range([291.7, 297.725]);

  g.append("path").attr("d", d3.line<number>().x((_, i) => t(lead(i))).y((d) => y(d))(measLead))
    .attr("fill", "none").attr("stroke", "#050505").attr("stroke-width", 1.5);
  g.append("path").attr("d", d3.line<number>().x((_, i) => t(tail(i))).y((d) => y(d))(measTail))
    .attr("fill", "none").attr("stroke", "#050505").attr("stroke-width", 1.5);

  const area = d3.area<number>().x((_, i) => t(burst(i))).y0((_, i) => y(measCore[i])).y1((d) => y(d));
  g.append("path").attr("d", area(measUpper)).attr("fill", "#050505").attr("stroke", "#050505").attr("stroke-width", 1);

  const comb = (times: number[], ends: number[], width: number) =>
    g.append("g").selectAll("line").data(times).enter().append("line")
      .attr("x1", (d) => t(d)).attr("x2", (d) => t(d)).attr("y1", y(-50))
      .attr("y2", (_, i) => y(ends[i]))
      .attr("stroke", "#111").attr("stroke-width", width);
  comb(measSpikeTimes, measSpikeDepths, 1.3);
  comb(measFineTimes, measFineDepths, 1.1);
  comb(measFineTimes, measFinePeaks, 1.1);
};

const drawConstellation = (g: G, w: number, h: number) => {
  const x = d3.scaleLinear().domain([-2.788, 2.788]).range([0, w]);
  const y = d3.scaleLinear().domain([-1.6, 1.6]).range([h, 0]);
  g.selectAll(".tail").data(constTails).enter().append("line")
    .attr("x1", (d) => x(constI[d[0]])).attr("y1", (d) => y(constQ[d[0]]))
    .attr("x2", (d) => x(constI[d[0]] + d[1])).attr("y2", (d) => y(constQ[d[0]] + d[2]))
    .attr("stroke", "#000").attr("stroke-width", 4.5).attr("stroke-linecap", "round");
  g.selectAll(".blob").data(constI).enter().append("circle")
    .attr("cx", (d) => x(d)).attr("cy", (_, i) => y(constQ[i]))
    .attr("r", (_, i) => x(constSpread[i]) - x(0)).attr("fill", "#000");
  g.selectAll(".pilot").data(pilotStartI).enter().append("line")
    .attr("x1", (d) => x(d)).attr("y1", (_, i) => y(pilotStartQ[i]))
    .attr("x2", (_, i) => x(pilotEndI[i])).attr("y2", (_, i) => y(pilotEndQ[i]))
    .attr("stroke", "#f00000").attr("stroke-width", 7).attr("stroke-linecap", "round");
};

const drawEqualizer = (g: G, w: number, h: number) => {
  const x = d3.scaleLinear().domain([0, eqValues.length - 1]).range([0, w]);
  const y = d3.scaleLinear().domain([-0.16, 0.39]).range([h, 0]);
  g.append("path").attr("d", d3.line<number>().x((_, i) => x(i)).y((d) => y(d))(eqValues))
    .attr("fill", "none").attr("stroke", "#2a2a2a").attr("stroke-width", 1.2);
};

const drawSpectrum = (g: G, w: number, h: number) => {
  const x = d3.scaleLinear().domain([-20, 19.96]).range([0, w]);
  const y = d3.scaleLinear().domain([-28.27, -128.27]).range([0, h]);
  const line = d3.line<[number, number]>().x((d) => x(d[0])).y((d) => y(d[1]));
  g.append("path").attr("d", line(toPoints(spectrumPieces, spectrumEdges)))
    .attr("fill", "none").attr("stroke", "#0c0c0c").attr("stroke-width", 1.35);
};

// bands are (lo, hi) pairs, each is a column of stacked points
const drawEvm = (g: G, x: d3.ScaleLinear<number, number>, h: number, bands: number[][], dots: number[][], isRed: (i: number) => boolean, dash: string) => {
  const y = d3.scaleLinear().domain([0, 10.85]).range([h, 0]);
  bands.forEach((col, i) => {
    const color = isRed(i) ? "#f00000" : "#000";
    d3.pairs(col).filter((_, k) => k % 2 === 0).forEach(([lo, hi]) => {
      g.append("line").attr("x1", x(i)).attr("x2", x(i)).attr("y1", y(lo)).attr("y2", y(hi))
        .attr("stroke", color).attr("stroke-width", 2.8).attr("stroke-dasharray", dash);
    });
    dots[i].forEach((v) => {
      g.append("circle").attr("cx", x(i)).attr("cy", y(v)).attr("r", 1.45).attr("fill", color);
    });
  });
};

const drawEvmSub = (g: G, w: number, h: number) => {
  const x = d3.scaleLinear().domain([0, subBands.length - 1]).range([0, w]);
  drawEvm(g, x, h, subBands, subDots, (i) => subPilots.includes(i), "2.4 0.5");
};

const drawEvmSym = (g: G, w: number, h: number) => {
  const x = d3.scaleLinear().domain([0, symBands.length - 1]).range([0, w]);
  const y = d3.scaleLinear().domain([0, 10.85]).range([h, 0]);
  drawEvm(g, x, h, symBands, symDots, () => false, "2.3 1");
  symPilots.forEach((col, i) => {
    col.forEach((v) => {
      g.append("circle").attr("cx", x(i)).attr("cy", y(v)).attr("r", 1.5).attr("fill", "#f00000");
    });
  });
};

// ---- settings side bar bits ----

const Arrow = ({ x, y, fill = "#6b7076", up = false }: { x: number; y: number; fill?: string; up?: boolean }) => (
  <path d={up ? `M${x} ${y + 3}l4 -5 4 5z` : `M${x} ${y - 2}h8l-4 4.5z`} fill={fill} />
);

const Section = ({ y, title }: { y: number; title: string }) => (
  <g>
    <rect x={1461} y={y} width={284} height={23} fill="#4e6080" />
    <path d={`M1472 ${y + 13}l7 -6v6z`} fill="#eef1f5" />
    <T x={1491} y={y + 11.5} size={11.5} fill="#e4e9f0">{title}</T>
  </g>
);

const Field = ({ y, x = 1542.5, x2 = 1733.5, value, combo = false, unit }: { y: number; x?: number; x2?: number; value: string; combo?: boolean; unit?: string }) => (
  <g>
    <rect x={x} y={y - 11} width={x2 - x} height={22} fill="#fff" stroke="#8e9bb0" strokeWidth={1} />
    {combo ? <T x={x + 6} y={y}>{value}</T> : <T x={x2 - 6} y={y} anchor="end">{value}</T>}
    {combo && <Arrow x={1721} y={y} />}
    {unit && <T x={x2 + 7} y={y}>{unit}</T>}
  </g>
);

const ToolButton = ({ x, x2, label, combo = false, white = false }: { x: number; x2: number; label: string; combo?: boolean; white?: boolean }) => (
  <g>
    <rect x={x} y={55} width={x2 - x} height={23} fill={white ? "#fff" : "url(#btnGrad)"} stroke="#8e9bb0" />
    <T x={(x + x2) / 2} y={66.5} anchor="middle">{label}</T>
    {combo && <Arrow x={x2 - 17} y={66} />}
  </g>
);

export default function App() {
  useEffect(() => {
    document.body.style.margin = "0";
  }, []);

  const r1 = 121.3, r2 = 417.3, r3 = 713.3, ph = 237;
  const sideRows1 = ["Eq. Training", "Pilot Tracking", "Sym Meas Off", "Oversample"];
  const sideVals1 = ["Preamble", "Phase", "-50%", "2"];

  return (
    <svg width={1769} height={996} viewBox="0 0 1769 996" style={{ position: "fixed", left: 0, top: 0, display: "block" }}>
      <defs>
        <linearGradient id="titleGrad" x1="0" y1="0" x2="0" y2="1">
          <stop offset="0" stopColor="#e0eef8" />
          <stop offset="0.35" stopColor="#b4c0ca" />
          <stop offset="1" stopColor="#7a8590" />
        </linearGradient>
        <linearGradient id="frameGrad" x1="0" y1="0" x2="0" y2="1">
          <stop offset="0" stopColor="#bccbdc" />
          <stop offset="0.09" stopColor="#d5e2ef" />
          <stop offset="1" stopColor="#d9e6f3" />
        </linearGradient>
        <linearGradient id="btnGrad" x1="0" y1="0" x2="0" y2="1">
          <stop offset="0" stopColor="#f6f6f6" />
          <stop offset="1" stopColor="#dfdfe2" />
        </linearGradient>
        <filter id="blurBar" x="-10%" y="-50%" width="120%" height="200%">
          <feGaussianBlur stdDeviation="3" />
        </filter>
      </defs>

      {/* Desktop behind the window */}
      <rect width={1769} height={996} fill="#f5f8fb" />
      <rect x={0} y={100} width={6} height={890} fill="#dfe8f0" />
      <rect x={0} y={720} width={5} height={80} fill="#8f99a3" filter="url(#blurBar)" />
      <rect x={1763} y={30} width={6} height={760} fill="#0d2f3b" />
      <rect x={1763} y={790} width={6} height={30} fill="#7d8c96" />

      {/* Title bar */}
      <rect x={0} y={2} width={1769} height={28} fill="url(#titleGrad)" />
      <rect x={0} y={0} width={1769} height={2} fill="#6e7781" />
      <g filter="url(#blurBar)" opacity={0.6}>
        <rect x={380} y={18} width={100} height={10} fill="#4c5660" />
        <rect x={630} y={18} width={200} height={10} fill="#4c5660" />
        <rect x={909} y={18} width={150} height={10} fill="#4c5660" />
        <rect x={1162} y={18} width={84} height={10} fill="#4c5660" />
        <rect x={1326} y={18} width={202} height={10} fill="#4c5660" />
        <rect x={364} y={12} width={6} height={15} fill="#a6e8a8" />
        <rect x={1141} y={12} width={6} height={15} fill="#a6e8a8" />
        <rect x={617} y={14} width={5} height={14} fill="#c9508c" />
        <rect x={1395} y={14} width={5} height={14} fill="#c9508c" />
        <rect x={1072} y={14} width={4} height={12} fill="#b09a45" />
      </g>
      <AppIcon x={6} y={8} />
      <T x={27} y={16} size={12.5} fill="#11161c">Spike: Signal Hound Spectrum Analyzer Software</T>
      <rect x={1659} y={2} width={103} height={19} rx={4} fill="#aab8c6" fillOpacity={0.5} stroke="#6b7886" />
      <path d="M1687.5 2V21M1714.5 2V21" stroke="#6b7886" />
      <rect x={1668} y={11} width={11} height={3.5} fill="#f2f5f8" stroke="#3c4650" strokeWidth={0.8} />
      <rect x={1696} y={7} width={10} height={8} fill="none" stroke="#3c4650" strokeWidth={1.2} />
      <path d="M1734 7.5l9 8m0 -8l-9 8" stroke="#3c4650" strokeWidth={1.8} fill="none" />

      {/* Menu and tool bar */}
      <rect x={6} y={30} width={1756} height={22} fill="#d3dae8" />
      <rect x={6} y={30} width={1756} height={1.2} fill="#4e5762" />
      <rect x={6} y={51} width={1756} height={1.2} fill="#4e5762" />
      <rect x={6} y={52} width={1756} height={31} fill="#ced8e6" />
      {menuItems.map((m, i) => <T key={m} x={menuX[i]} y={41.5}>{m}</T>)}
      <ToolButton x={48.5} x2={245.5} label="Add Measurement" combo white />
      <rect x={248.5} y={61} width={13} height={13} fill="#fff" stroke="#8e9bb0" />
      <path d="M251 67.5l3 4 5.5 -8.5" fill="none" stroke="#111" strokeWidth={1.5} />
      <T x={273} y={67}>Auto Fit</T>
      <ToolButton x={348.5} x2={545.5} label="Quick Setup" combo white />
      <ToolButton x={1195.5} x2={1320.5} label="" />
      <path d="M1232 66.5h10m-3 -3l3.5 3 -3.5 3M1244.5 62v9" stroke="#222" strokeWidth={1.3} fill="none" />
      <T x={1252} y={66.5}>Single</T>
      <ToolButton x={1323.5} x2={1443.5} label="" />
      <path d="M1369 60.5a6 6 0 1 0 3 11" stroke="#222" strokeWidth={1.4} fill="none" />
      <path d="M1367 57.5l4 3 -3.5 2.5z" fill="#222" />
      <T x={1381} y={66.5}>Auto</T>
      <rect x={1457} y={54} width={1} height={26} fill="#8a93a0" />
      <ToolButton x={1470.5} x2={1593.5} label="Recal" />
      <rect x={1607} y={54} width={1} height={26} fill="#8a93a0" />
      <rect x={1621.5} y={55.5} width={128} height={22.5} fill="#157a45" stroke="#08301c" />
      <T x={1688} y={66.5} anchor="middle" fill="#dff0e6">Preset</T>

      {/* Trace windows */}
      <Panel x={6.5} y={83} w={482} h={295} title="AM vs Time (Search)" />
      <Panel x={489.5} y={83} w={483} h={295} title="AM vs Time (Meas)" />
      <Panel x={972.5} y={83} w={482.5} h={295} title="Constellation" />
      <Panel x={6.5} y={378.5} w={482} h={295} title="WLAN OFDM Summary" bg="#eeeff2" />
      <Panel x={489.5} y={378.5} w={483} h={295} title="WLAN Signal Info" bg="#eeeff2" />
      <Panel x={972.5} y={378.5} w={482.5} h={295} title="Equalizer Magnitude" />
      <Panel x={6.5} y={674.5} w={482} h={294.5} title="Spectrum" />
      <Panel x={489.5} y={674.5} w={483} h={294.5} title="EVM vs Subcarriers" />
      <Panel x={972.5} y={674.5} w={482.5} h={294.5} title="EVM vs Symbols" />

      <Scope id="c1" box={{ x: 55.5, y: r1, w: 406.5, h: ph }} yLabels={searchYLabels} top="0.00" unit="dBm" xLabels={["0.0 s", "Time", "9.998 ms"]} draw={drawSearch} />
      <Scope id="c2" box={{ x: 538.7, y: r1, w: 406.6, h: ph }} yLabels={searchYLabels} top="0.00" unit="dBm" xLabels={["-5.825 us", "Time", "297.725 us"]} draw={drawMeas} />
      <Scope id="c3" box={{ x: 1015.3, y: r1, w: 413.4, h: ph }} yLabels={constYLabels} top="1.600" unit="" xLabels={["-2.788", "", "2.788"]} draw={drawConstellation} />
      <Scope id="c4" box={{ x: 1009.7, y: r2, w: 419, h: ph }} yLabels={eqYLabels} top="0.39" unit="dB" xLabels={["-28", "Subcarriers", "28"]} draw={drawEqualizer} />
      <Scope id="c5" box={{ x: 55.3, y: r3, w: 407.4, h: ph }} yLabels={specYLabels} top="-28.27" unit="dBm*" xLabels={["-20.000000 MHz", "Frequency", "19.960948 MHz"]} draw={drawSpectrum} />
      <Scope id="c6" box={{ x: 528.7, y: r3, w: 416.6, h: ph }} yLabels={evmYLabels} top="10.85" unit="%" xLabels={["-28", "Subcarriers", "28"]} draw={drawEvmSub} />
      <Scope id="c7" box={{ x: 1011.7, y: r3, w: 417, h: ph }} yLabels={evmYLabels} top="10.85" unit="%" xLabels={["1", "Symbols", "64"]} draw={drawEvmSym} />

      {/* WLAN OFDM Summary */}
      {summaryLabels.map((l, i) => (
        <g key={l}>
          <T x={22} y={420.7 + i * 15}>{l}</T>
          <T x={134} y={420.7 + i * 15}>{summaryValues[i]}</T>
        </g>
      ))}

      {/* WLAN Signal Info */}
      <clipPath id="infoClip"><rect x={496} y={404} width={455} height={263} /></clipPath>
      <g clipPath="url(#infoClip)">
        <T x={505} y={425.7}>Display Type</T>
        <rect x={635.5} y={414.5} width={303} height={22} fill="#fff" stroke="#8e9bb0" />
        <T x={641} y={425.7}>Hex</T>
        <Arrow x={926} y={426} />
        {signalLabels.map((l, i) => (
          <g key={i}>
            <T x={505} y={460.7 + i * 15}>{l}</T>
            <T x={634} y={460.7 + i * 15}>{signalValues[i]}</T>
          </g>
        ))}
      </g>
      <rect x={951} y={422} width={12} height={74} fill="#c8cad6" />
      <Arrow x={953} y={412} up fill="#6b7076" />
      <Arrow x={953} y={659} fill="#6b7076" />

      {/* WLAN Settings */}
      <rect x={1455} y={83} width={6} height={886} fill="#d5e3f1" />
      <rect x={1461} y={83} width={300} height={886} fill="#eeeff2" />
      <rect x={1761} y={30} width={1.6} height={962} fill="#3c4650" />
      <rect x={1461} y={83} width={299} height={20} fill="#27365a" />
      <T x={1467} y={93} fill="#dfe5ee">WLAN Settings</T>

      <Section y={115} title="Standard" />
      <T x={1466} y={156.7}>Standard</T>
      <Field y={156.7} value="IEEE 802.11n 20MHz" combo />
      <T x={1466} y={181.7}>Max Symbols</T>
      <Field y={181.7} value="512" />
      {sideRows1.map((l, i) => (
        <g key={l}>
          <T x={1466} y={206.7 + i * 25}>{l}</T>
          <T x={1546} y={206.7 + i * 25} fill="#8d9096">{sideVals1[i]}</T>
        </g>
      ))}

      <Section y={321} title="Frequency" />
      <T x={1466} y={362.7}>2.4 GHz Ch.</T>
      <Field y={362.7} value="--" combo />
      <T x={1466} y={387.7}>5 GHz Ch.</T>
      <Field y={387.7} value="--" combo />
      <T x={1466} y={412.7}>Carrier Freq</T>
      <rect x={1542.5} y={401.7} width={22} height={22} fill="url(#btnGrad)" stroke="#8e9bb0" />
      <Arrow x={1550} y={412.7} up />
      <rect x={1567.5} y={401.7} width={22} height={22} fill="url(#btnGrad)" stroke="#8e9bb0" />
      <Arrow x={1575} y={412.7} />
      <Field y={412.7} x={1592.5} value="1.000000 GHz" />
      <T x={1466} y={437.7}>Step Freq</T>
      <Field y={437.7} value="20.000000 MHz" />
      <T x={1466} y={462.7}>IF BW</T>
      <Field y={462.7} value="40.000000 MHz" />

      <Section y={502} title="Amplitude" />
      <T x={1466} y={543.7}>Input Level</T>
      <Field y={543.7} x2={1697.5} value="-10.000" unit="dBm" />

      <Section y={583} title="DSSS Ref Filter" />
      <T x={1466} y={624.7}>Meas Filter</T>
      <Field y={624.7} value="Rectangular" combo />
      <T x={1466} y={649.7}>Filter Bbt</T>
      <Field y={649.7} value="0.500" />

      <Section y={689} title="Triggering" />
      <T x={1466} y={730.7}>Search Len</T>
      <Field y={730.7} value="10.000 ms" />
      <T x={1466} y={755.7}>Trigger Level</T>
      <Field y={755.7} x2={1697.5} value="-55.000" unit="dBm" />

      {/* Status bar */}
      <rect x={6} y={969} width={1755} height={22} fill="#27365a" />
      {[1027, 1053, 1195, 1267, 1443, 1577, 1712, 1742].map((x) => (
        <rect key={x} x={x} y={972} width={1} height={16} fill="#dfe5ee" />
      ))}
      <T x={1068} y={980.5} fill="#dfe5ee">SM200A - 40MHz IBW</T>
      <T x={1210} y={980.5} fill="#dfe5ee">INT REF</T>
      <T x={1282} y={980.5} fill="#dfe5ee">S/N - 18104255</T>
      <T x={1380} y={980.5} fill="#dfe5ee">F/W 4.5.6</T>
      <T x={1457} y={980.5} fill="#dfe5ee">57.14 C -- 21.56 W</T>
      <T x={1592} y={980.5} fill="#dfe5ee">GPS Holdover (21d)</T>
    </svg>
  );
}
